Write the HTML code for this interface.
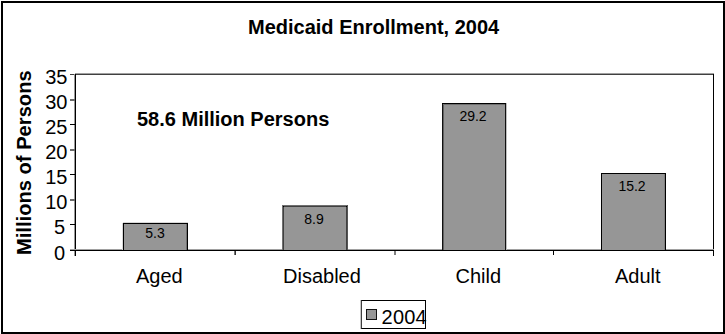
<!DOCTYPE html>
<html><head><meta charset="utf-8">
<style>
html,body{margin:0;padding:0;background:#fff;}
body{width:725px;height:334px;position:relative;overflow:hidden;font-family:"Liberation Sans",sans-serif;color:#000;}
.a{position:absolute;}
.t{position:absolute;white-space:nowrap;line-height:1;}
.frame{left:1px;top:1px;width:724px;height:333px;border:2px solid #000;box-sizing:border-box;}
.lbl{position:absolute;font-size:14px;line-height:1;white-space:nowrap;text-align:center;width:64px;}
.y{font-size:20px;}
</style></head><body>
<div class="a frame"></div>
<div class="t" style="left:248px;top:17px;font-size:20px;font-weight:bold;">Medicaid Enrollment, 2004</div>
<div class="t" style="left:13.6px;top:255.3px;font-size:20.15px;font-weight:bold;transform-origin:0 0;transform:rotate(-90deg);">Millions of Persons</div>
<div class="t" style="left:137px;top:109px;font-size:20px;font-weight:bold;">58.6 Million Persons</div>
<div class="a" style="left:75px;top:73px;width:639px;height:1px;background:#a0a0a0"></div>
<div class="a" style="left:70px;top:74px;width:644px;height:1px;background:#404040"></div>
<div class="a" style="left:74px;top:74px;width:1px;height:182px;background:#999"></div>
<div class="a" style="left:75px;top:74px;width:1px;height:182px;background:#000"></div>
<div class="a" style="left:713px;top:74px;width:1px;height:182px;background:#000"></div>
<div class="a" style="left:70px;top:249px;width:644px;height:1px;background:#a0a0a0"></div>
<div class="a" style="left:70px;top:250px;width:644px;height:1px;background:#000"></div>
<div class="a" style="left:70px;top:99px;width:5px;height:1px;background:#6a6a6a"></div>
<div class="a" style="left:70px;top:100px;width:5px;height:1px;background:#6a6a6a"></div>
<div class="a" style="left:70px;top:124px;width:5px;height:1px;background:#000"></div>
<div class="a" style="left:70px;top:149px;width:5px;height:1px;background:#6a6a6a"></div>
<div class="a" style="left:70px;top:150px;width:5px;height:1px;background:#6a6a6a"></div>
<div class="a" style="left:70px;top:174px;width:5px;height:1px;background:#000"></div>
<div class="a" style="left:70px;top:199px;width:5px;height:1px;background:#6a6a6a"></div>
<div class="a" style="left:70px;top:200px;width:5px;height:1px;background:#6a6a6a"></div>
<div class="a" style="left:70px;top:224px;width:5px;height:1px;background:#000"></div>
<div class="a" style="left:234px;top:251px;width:1px;height:4px;background:#777"></div>
<div class="a" style="left:235px;top:251px;width:1px;height:4px;background:#333"></div>
<div class="a" style="left:394px;top:251px;width:1px;height:4px;background:#808080"></div>
<div class="a" style="left:395px;top:251px;width:1px;height:4px;background:#808080"></div>
<div class="a" style="left:553px;top:251px;width:1px;height:4px;background:#000"></div>
<div class="a" style="left:124px;top:224px;width:63px;height:26px;background:#969696"></div>
<div class="a" style="left:122px;top:223px;width:1px;height:27px;background:#d8d8d8"></div>
<div class="a" style="left:123px;top:222px;width:65px;height:1px;background:#d8d8d8"></div>
<div class="a" style="left:123px;top:223px;width:1px;height:27px;background:#000"></div>
<div class="a" style="left:187px;top:223px;width:1px;height:27px;background:#000"></div>
<div class="a" style="left:123px;top:223px;width:65px;height:1px;background:#000"></div>
<div class="a" style="left:186px;top:224px;width:1px;height:26px;background:#707070"></div>
<div class="a" style="left:284px;top:207px;width:62px;height:43px;background:#969696"></div>
<div class="a" style="left:282px;top:205px;width:1px;height:45px;background:#707070"></div>
<div class="a" style="left:283px;top:206px;width:1px;height:44px;background:#404040"></div>
<div class="a" style="left:347px;top:205px;width:1px;height:45px;background:#555"></div>
<div class="a" style="left:346px;top:206px;width:1px;height:44px;background:#404040"></div>
<div class="a" style="left:283px;top:205px;width:64px;height:1px;background:#707070"></div>
<div class="a" style="left:283px;top:206px;width:64px;height:1px;background:#404040"></div>
<div class="a" style="left:283px;top:206px;width:1px;height:1px;background:#000"></div>
<div class="a" style="left:346px;top:206px;width:1px;height:1px;background:#000"></div>
<div class="a" style="left:444px;top:105px;width:61px;height:145px;background:#969696"></div>
<div class="a" style="left:442px;top:103px;width:1px;height:147px;background:#111"></div>
<div class="a" style="left:443px;top:104px;width:1px;height:146px;background:#606060"></div>
<div class="a" style="left:505px;top:103px;width:1px;height:147px;background:#111"></div>
<div class="a" style="left:506px;top:103px;width:1px;height:147px;background:#c0c0c0"></div>
<div class="a" style="left:442px;top:103px;width:64px;height:1px;background:#000"></div>
<div class="a" style="left:443px;top:104px;width:62px;height:1px;background:#707070"></div>
<div class="a" style="left:602px;top:174px;width:63px;height:76px;background:#969696"></div>
<div class="a" style="left:601px;top:173px;width:1px;height:77px;background:#000"></div>
<div class="a" style="left:665px;top:173px;width:1px;height:77px;background:#000"></div>
<div class="a" style="left:601px;top:173px;width:65px;height:1px;background:#000"></div>
<div class="a" style="left:664px;top:174px;width:1px;height:76px;background:#808080"></div>
<div class="t y" style="right:657.6px;top:67px;">35</div>
<div class="t y" style="right:657.6px;top:92px;">30</div>
<div class="t y" style="right:657.6px;top:117px;">25</div>
<div class="t y" style="right:657.6px;top:142px;">20</div>
<div class="t y" style="right:657.6px;top:167px;">15</div>
<div class="t y" style="right:657.6px;top:192px;">10</div>
<div class="t y" style="right:660px;top:217px;">5</div>
<div class="t y" style="right:660px;top:243px;">0</div>
<div class="lbl" style="left:123px;top:226px;">5.3</div>
<div class="lbl" style="left:282px;top:212px;">8.9</div>
<div class="lbl" style="left:441px;top:109px;">29.2</div>
<div class="lbl" style="left:600px;top:179px;">15.2</div>
<div class="t" style="left:136px;top:266px;font-size:20px;">Aged</div>
<div class="t" style="left:283px;top:266px;font-size:20px;">Disabled</div>
<div class="t" style="left:455.5px;top:266px;font-size:20px;">Child</div>
<div class="t" style="left:615px;top:266px;font-size:20px;">Adult</div>
<div class="a" style="left:360px;top:300px;width:1px;height:29px;background:#c8c8c8"></div>
<div class="a" style="left:361px;top:300px;width:65px;height:29px;border:1px solid #000;border-left-color:#404040;box-sizing:border-box;"></div>
<div class="a" style="left:366px;top:309px;width:11px;height:11px;border:1px solid #111;background:#969696;box-sizing:border-box;"></div>
<div class="t" style="left:381.6px;top:306.5px;font-size:20px;letter-spacing:0.2px;">2004</div>
</body></html>
